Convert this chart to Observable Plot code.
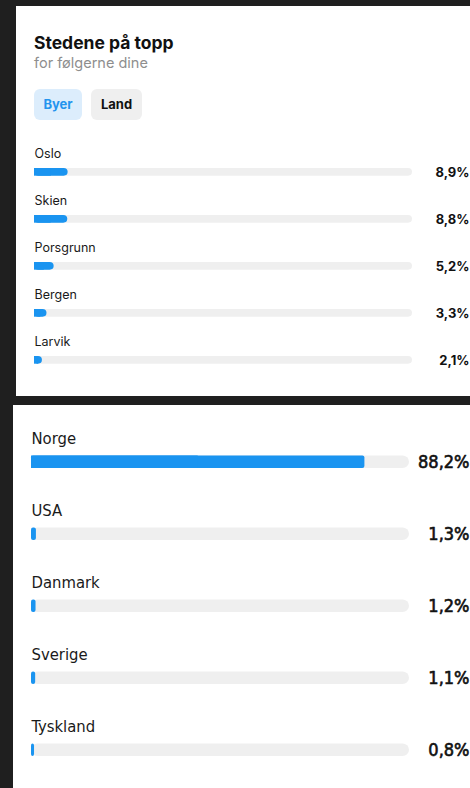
<!DOCTYPE html>
<html><head><meta charset="utf-8">
<script src="https://cdn.jsdelivr.net/npm/d3@7"></script>
<script src="https://cdn.jsdelivr.net/npm/@observablehq/plot@0.6"></script>
<style>
html,body{margin:0;padding:0;background:#1f1f1f;width:470px;height:788px;overflow:hidden;}
.panel{position:absolute;background:#fff;overflow:hidden;}
#top{left:16px;top:6px;width:454px;height:390px;font-family:Inter,"Noto Sans",sans-serif;}
#bottom{left:13px;top:405px;width:457px;height:383px;}
#title{position:absolute;left:18px;top:27px;font-size:17.5px;line-height:20px;font-weight:700;color:#111;white-space:nowrap;}
#subtitle{position:absolute;left:18px;top:48px;font-size:14.5px;line-height:17px;color:#8e8e8e;white-space:nowrap;}
.btn{position:absolute;top:83px;height:31px;border-radius:6px;font-size:13px;font-weight:700;line-height:31px;text-align:center;}
#byer{left:18px;width:48px;background:#dcedfc;color:#2394ee;}
#land{left:75px;width:51px;background:#efefef;color:#111;}
#topchart{position:absolute;left:0;top:124px;}
#bottomchart{position:absolute;left:0;top:0;}
</style>
</head><body>
<div id="top" class="panel">
  <div id="title">Stedene på topp</div>
  <div id="subtitle">for følgerne dine</div>
  <div id="byer" class="btn">Byer</div>
  <div id="land" class="btn">Land</div>
  <div id="topchart"></div>
</div>
<div id="bottom" class="panel"><div id="bottomchart"></div></div>
<script>
const cities = ["Oslo", "Skien", "Porsgrunn", "Bergen", "Larvik"];
const cityShare = [8.9, 8.8, 5.2, 3.3, 2.1];
const countries = ["Norge", "USA", "Danmark", "Sverige", "Tyskland"];
const countryShare = [88.2, 1.3, 1.2, 1.1, 0.8];

const fmt = v => d3.format(".1f")(v).replace(".", ",") + "%";
const blue = "#1a94f0";
const track = "#efefef";

const cityData = cities.map((name, i) => ({name, value: cityShare[i]}));
const countryData = countries.map((name, i) => ({name, value: countryShare[i]}));

function rows(data, o) {
  return Plot.plot({
    width: o.width, height: o.height,
    marginLeft: 18, marginRight: o.width - 396, marginTop: o.top, marginBottom: o.height - o.top - o.band * data.length,
    x: {domain: [0, 100], axis: null},
    y: {domain: data.map(d => d.name), axis: null, padding: 0},
    style: {background: "transparent", fontFamily: o.font, overflow: "visible", color: "#111"},
    marks: [
      Plot.barX(data, {x1: d => 0, x2: d => 100, y: "name", insetTop: o.inTop, insetBottom: o.band - o.inTop - o.bh, fill: track, rx: o.bh / 2}),
      Plot.barX(data, {x1: d => 0, x2: "value", y: "name", insetTop: o.inTop, insetBottom: o.band - o.inTop - o.bh, fill: blue, rx: o.rx}),
      Plot.barX(data.filter(d => d.value > 2), {x1: d => 0, x2: d => d.value / 2, y: "name", insetTop: o.inTop, insetBottom: o.band - o.inTop - o.bh, fill: blue}),
      Plot.text(data, {frameAnchor: "left", y: "name", text: "name", textAnchor: "start", dy: o.labelDy, fontSize: o.labelSize, fill: "#1a1a1a"}),
      Plot.text(data, {frameAnchor: "right", y: "name", text: d => fmt(d.value), textAnchor: "end", dx: o.valueDx, dy: o.valueDy, fontSize: o.valueSize, fontWeight: o.valueWeight, fill: "#111", stroke: "#111", strokeWidth: o.valueStroke})
    ]
  });
}

document.getElementById("topchart").append(rows(cityData, {
  width: 454, height: 260, top: 13, band: 47.3, inTop: 24, bh: 8, rx: 4,
  labelDy: -13.6, valueDy: 4.4, valueDx: 57, labelSize: 12.5, valueSize: 13, valueWeight: 700, valueStroke: 0,
  font: "Inter, 'Noto Sans', sans-serif"
}));

document.getElementById("bottomchart").append(rows(countryData, {
  width: 457, height: 383, top: 16, band: 72.5, inTop: 33.5, bh: 13, rx: 2,
  labelDy: -20.2, valueDy: 3.8, valueDx: 60, labelSize: 16.5, valueSize: 18, valueWeight: 400, valueStroke: 0.6,
  font: "'Liberation Sans Narrow', 'DejaVu Sans Condensed', 'Roboto Condensed', sans-serif"
}));
</script>
</body></html>
